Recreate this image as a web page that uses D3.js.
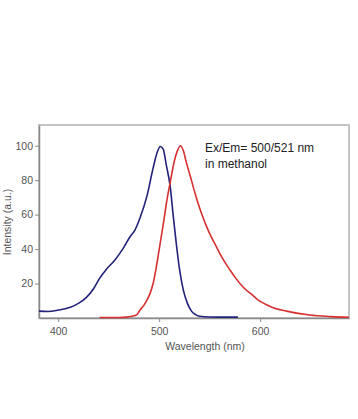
<!DOCTYPE html>
<html><head><meta charset="utf-8">
<script src="https://cdn.jsdelivr.net/npm/d3@7"></script>
<style>body{margin:0;background:#fff;}svg{display:block;}</style>
</head><body>
<script>
const xTicks = [400, 500, 600];
const yTicks = [20, 40, 60, 80, 100];
const exWavelength = [381,390,400,412,420,428,435,441,448,456,461,465,471,476,481,488,494,498,501,504,507,511,514,517,520,524,528,532,536,540,550,565,578];
const exIntensity  = [4.0,3.8,4.6,6.2,8.5,12,17,23,28.5,33.5,37.5,41,47,51,58,71,87,96,99.5,98,89,76,59,43,29,16,8.5,4,2,1,0.6,0.5,0.5];
const emWavelength = [441,461,468,473,478,481,485,488,491,494,497,499,502,505,507,511,515,518,521,524,527,531,534,537,540,544,547,550,557,560,570,576,583,593,596,609,613,626,649,670,688];
const emIntensity  = [0.3,0.3,0.5,1,2,4.6,7.5,10.5,14.3,20,29,36,47,58,66,79,91,97,100,97,90,82,75.5,69.5,64,57.5,53,49,41,37.5,28,23,18,13,11.4,7,6,4,1.7,0.8,0.4];

const W = 358, H = 419;
const m = {left: 39, right: 349, top: 125, bottom: 318};
const svg = d3.select("body").append("svg").attr("width", W).attr("height", H);
const x = d3.scaleLinear().domain([381, 688]).range([m.left, m.right]);
const y = d3.scaleLinear().domain([0, 112]).range([m.bottom, m.top]);

svg.append("rect").attr("x", m.left).attr("y", m.top)
  .attr("width", m.right - m.left).attr("height", m.bottom - m.top)
  .attr("fill", "none").attr("stroke", "#c4c4c4").attr("stroke-width", 2);

const tickColor = "#8a8a8a", textColor = "#555";
const gx = svg.append("g").attr("transform", `translate(0,${m.bottom})`)
  .call(d3.axisBottom(x).tickValues(xTicks).tickSize(4).tickSizeOuter(0).tickPadding(6));
const gy = svg.append("g").attr("transform", `translate(${m.left},0)`)
  .call(d3.axisLeft(y).tickValues(yTicks).tickSize(4).tickSizeOuter(0).tickPadding(2));
[gx, gy].forEach(g => {
  g.select(".domain").attr("stroke", tickColor).attr("stroke-width", 1.5);
  g.selectAll(".tick line").attr("stroke", tickColor);
  g.selectAll(".tick text").attr("fill", textColor)
    .style("font-family", "Liberation Sans, Arial, sans-serif").style("font-size", "10.5px");
});

const line = d3.line().curve(d3.curveMonotoneX);
svg.append("path")
  .attr("d", line(exWavelength.map((w, i) => [x(w), y(exIntensity[i])])))
  .attr("fill", "none").attr("stroke", "#22227a").attr("stroke-width", 1.6);
svg.append("path")
  .attr("d", line(emWavelength.map((w, i) => [x(w), y(emIntensity[i])])))
  .attr("fill", "none").attr("stroke", "#d63030").attr("stroke-width", 1.6);

const font = "Liberation Sans, Arial, sans-serif";
svg.append("text").attr("x", 205).attr("y", 350).attr("text-anchor", "middle")
  .attr("fill", textColor).style("font-family", font).style("font-size", "10.5px")
  .text("Wavelength (nm)");
svg.append("text").attr("transform", "translate(11,222) rotate(-90)").attr("text-anchor", "middle")
  .attr("fill", textColor).style("font-family", font).style("font-size", "10.5px")
  .text("Intensity (a.u.)");
svg.append("text").attr("x", 205).attr("y", 152).attr("fill", "#222")
  .style("font-family", font).style("font-size", "12px").text("Ex/Em= 500/521 nm");
svg.append("text").attr("x", 205).attr("y", 168).attr("fill", "#222")
  .style("font-family", font).style("font-size", "12px").text("in methanol");
</script>
</body></html>
